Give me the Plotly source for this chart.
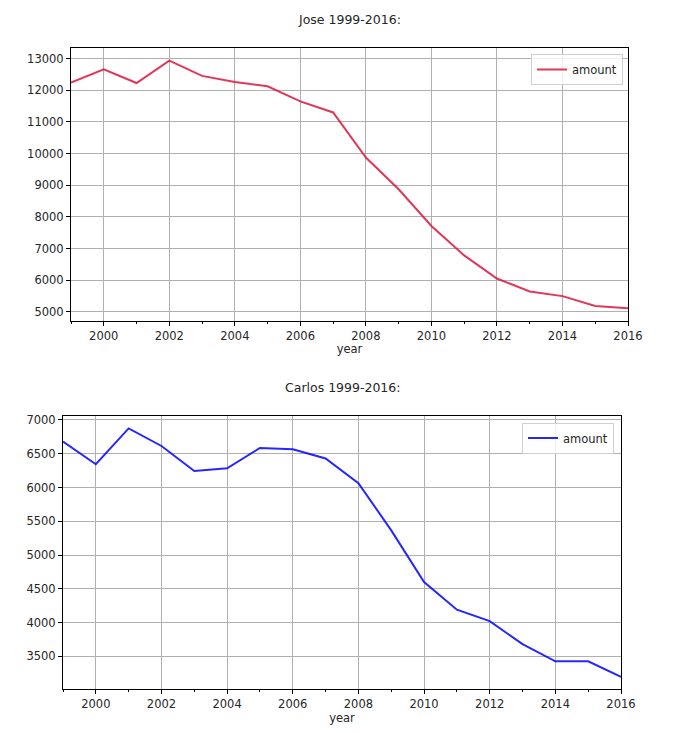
import plotly.graph_objects as go

years = list(range(1999, 2017))
jose_amount = [12240, 12655, 12225, 12930, 12450, 12255, 12120, 11645, 11295,
               9870, 8870, 7710, 6780, 6050, 5640, 5495, 5185, 5110]
carlos_amount = [6680, 6345, 6875, 6615, 6245, 6285, 6585, 6565, 6430,
                 6065, 5365, 4600, 4190, 4020, 3680, 3425, 3425, 3195]
xticks = [2000, 2002, 2004, 2006, 2008, 2010, 2012, 2014, 2016]
jose_yticks = [5000, 6000, 7000, 8000, 9000, 10000, 11000, 12000, 13000]
carlos_yticks = [3500, 4000, 4500, 5000, 5500, 6000, 6500, 7000]


def pad(vals):
    lo, hi = min(vals), max(vals)
    m = (hi - lo) * 0.05
    return [lo - m, hi + m]


W, H = 674, 733
FONT = "DejaVu Sans"
TXT = "#262626"

fig = go.Figure()
fig.add_trace(go.Scatter(x=years, y=jose_amount, mode="lines", name="amount",
                         line=dict(color="rgba(220,20,60,0.85)", width=2),
                         xaxis="x", yaxis="y", legend="legend", showlegend=True))
fig.add_trace(go.Scatter(x=years, y=carlos_amount, mode="lines", name="amount",
                         line=dict(color="rgba(0,0,255,0.85)", width=2),
                         xaxis="x2", yaxis="y2", legend="legend2", showlegend=True))

common_x = dict(range=[1999, 2016], tickvals=xticks, showgrid=True, automargin=False,
                gridcolor="#b0b0b0", gridwidth=1, showline=True, linecolor="black",
                linewidth=1, mirror=True, ticks="outside", ticklen=4, tickcolor="black",
                zeroline=False, tickfont=dict(family=FONT, size=11.5, color=TXT),
                minor=dict(dtick=1, tick0=1999, ticks="outside", ticklen=2,
                           tickcolor="black", showgrid=False),
                title=dict(text="year", font=dict(family=FONT, size=11.5, color=TXT),
                           standoff=3))
common_y = dict(showgrid=True, gridcolor="#b0b0b0", gridwidth=1, showline=True,
                linecolor="black", linewidth=1, mirror=True, ticks="outside",
                ticklen=4, tickcolor="black", zeroline=False, tickformat="d",
                automargin=False, tickfont=dict(family=FONT, size=11.5, color=TXT))

fig.update_layout(
    width=W, height=H, margin=dict(l=0, r=0, t=0, b=0, autoexpand=False),
    plot_bgcolor="white", paper_bgcolor="white", showlegend=True,
    xaxis=dict(domain=[71 / W, 628 / W], anchor="y", **common_x),
    yaxis=dict(domain=[1 - 320.7 / H, 1 - 48.3 / H], anchor="x",
               range=pad(jose_amount), tickvals=jose_yticks, **common_y),
    xaxis2=dict(domain=[63 / W, 621 / W], anchor="y2", **common_x),
    yaxis2=dict(domain=[1 - 689.3 / H, 1 - 416 / H], anchor="x2",
                range=pad(carlos_amount), tickvals=carlos_yticks, **common_y),
    legend=dict(x=623 / W, y=1 - 54 / H, xanchor="right", yanchor="top",
                bgcolor="rgba(255,255,255,0.8)", bordercolor="#d0d0d0", borderwidth=1,
                font=dict(family=FONT, size=11.5, color=TXT)),
    legend2=dict(x=614 / W, y=1 - 422.5 / H, xanchor="right", yanchor="top",
                 bgcolor="rgba(255,255,255,0.8)", bordercolor="#d0d0d0", borderwidth=1,
                 font=dict(family=FONT, size=11.5, color=TXT)),
    annotations=[
        dict(text="Jose 1999-2016:", x=349.5 / W, y=1 - 19 / H, xref="paper",
             yref="paper", showarrow=False, xanchor="center", yanchor="middle",
             font=dict(family=FONT, size=12.5, color=TXT)),
        dict(text="Carlos 1999-2016:", x=342 / W, y=1 - 387 / H, xref="paper",
             yref="paper", showarrow=False, xanchor="center", yanchor="middle",
             font=dict(family=FONT, size=12.5, color=TXT)),
    ],
)

fig.write_html("out.html", config={"displayModeBar": False},
               post_script="document.body.style.margin='0';")
